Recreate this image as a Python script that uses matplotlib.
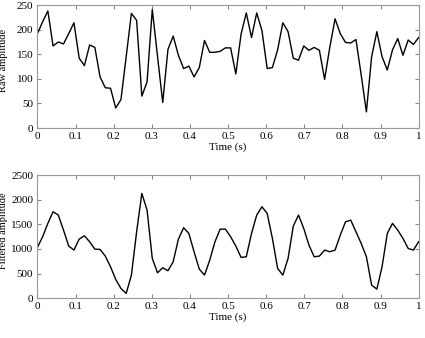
import numpy as np
import matplotlib.pyplot as plt

# raw signal (top) and filtered signal (bottom), 74 samples over 0..1 s
raw = [192, 216, 238, 167, 175, 171, 192, 214, 142, 127, 169, 164, 104, 82, 81,
       41, 58, 145, 233, 219, 65, 94, 241, 146, 52, 160, 187, 148, 121, 126,
       104, 123, 178, 154, 154, 156, 163, 163, 110, 191, 234, 184, 234, 198, 121,
       123, 159, 214, 196, 142, 138, 167, 158, 164, 158, 99, 165, 222, 192, 174,
       173, 180, 108, 33, 145, 196, 145, 118, 159, 182, 148, 179, 170, 184]
filtered = [1030, 1247, 1518, 1755, 1687, 1382, 1057, 976, 1199, 1267, 1145, 996,
            989, 854, 637, 379, 196, 95, 467, 1348, 2127, 1789, 806, 515, 617,
            556, 738, 1199, 1430, 1314, 942, 589, 467, 772, 1145, 1402, 1402, 1247,
            1057, 827, 840, 1314, 1687, 1856, 1721, 1213, 603, 467, 806, 1463,
            1687, 1416, 1077, 840, 854, 976, 942, 976, 1280, 1551, 1585, 1348,
            1111, 840, 264, 183, 637, 1314, 1518, 1382, 1213, 1009, 976, 1145]
t = np.linspace(0, 1, len(raw))

xticks = [0, 0.1, 0.2, 0.3, 0.4, 0.5, 0.6, 0.7, 0.8, 0.9, 1]
xticklabels = ["0", "0.1", "0.2", "0.3", "0.4", "0.5", "0.6", "0.7", "0.8", "0.9", "1"]
raw_ticks = [0, 50, 100, 150, 200, 250]
filt_ticks = [0, 500, 1000, 1500, 2000, 2500]

plt.rcParams['font.family'] = ['Liberation Serif', 'DejaVu Serif']
plt.rcParams['font.size'] = 8

fig = plt.figure(figsize=(4.25, 3.38), dpi=100)
ax1 = fig.add_axes([0.088, 0.621, 0.897, 0.364])
ax2 = fig.add_axes([0.088, 0.118, 0.897, 0.364])

for ax, y, yt, ylab in [(ax1, raw, raw_ticks, "Raw amplitude"),
                        (ax2, filtered, filt_ticks, "Filtered amplitude")]:
    ax.plot(t, y, color="black", linewidth=1.0)
    ax.set_xlim(0, 1)
    ax.set_ylim(yt[0], yt[-1])
    ax.set_xticks(xticks)
    ax.set_xticklabels(xticklabels)
    ax.set_yticks(yt)
    ax.tick_params(direction="in", top=True, right=True, length=3,
                   color="#888888", pad=3)
    for s in ax.spines.values():
        s.set_color("#999999")
        s.set_linewidth(0.8)
    ax.set_xlabel("Time (s)", labelpad=1)
    ax.set_ylabel(ylab, fontsize=7.5)
    ax.yaxis.set_label_coords(-0.077, 0.55)

fig.savefig("out.png", dpi=100)
